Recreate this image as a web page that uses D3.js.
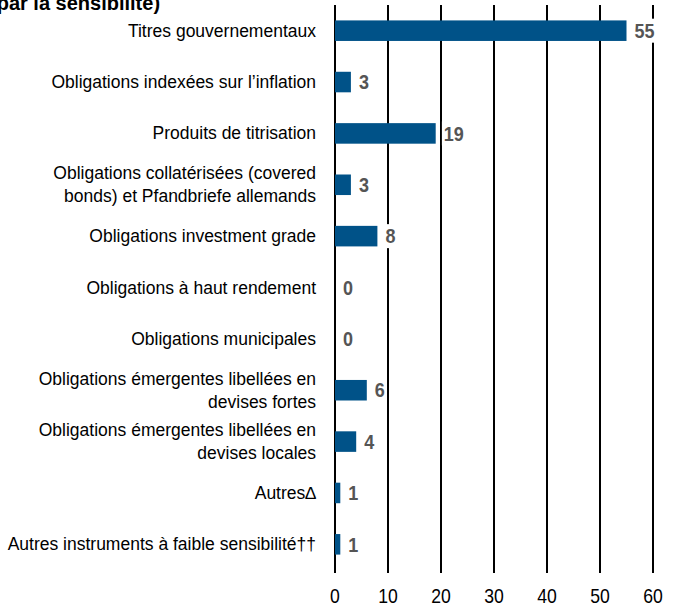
<!DOCTYPE html>
<html><head><meta charset="utf-8">
<script src="https://cdn.jsdelivr.net/npm/d3@7/dist/d3.min.js"></script>
<style>body{margin:0;background:#fff}svg{display:block}</style>
</head><body>
<script>
const categories = [
  ["Titres gouvernementaux"],
  ["Obligations indexées sur l’inflation"],
  ["Produits de titrisation"],
  ["Obligations collatérisées (covered", "bonds) et Pfandbriefe allemands"],
  ["Obligations investment grade"],
  ["Obligations à haut rendement"],
  ["Obligations municipales"],
  ["Obligations émergentes libellées en", "devises fortes"],
  ["Obligations émergentes libellées en", "devises locales"],
  ["Autres∆"],
  ["Autres instruments à faible sensibilité††"]
];
const values = [55, 3, 19, 3, 8, 0, 0, 6, 4, 1, 1];
const xTicks = [0, 10, 20, 30, 40, 50, 60];
const title = "(par la sensibilité)";

const FONT = "Liberation Sans, Arial, sans-serif";
const W = 679, H = 609;
const svg = d3.select("body").append("svg").attr("width", W).attr("height", H);
const x = d3.scaleLinear().domain([0, 60]).range([335, 653]);
const y = d3.scaleBand().domain(d3.range(categories.length)).range([5, 570]).paddingInner(0.6).paddingOuter(0.3);

// gridlines
svg.append("g").selectAll("line").data(xTicks).join("line")
  .attr("x1", d => x(d)).attr("x2", d => x(d))
  .attr("y1", 5).attr("y2", 573)
  .attr("stroke", "#000").attr("stroke-width", 2);

// bars
svg.append("g").selectAll("rect").data(values).join("rect")
  .attr("x", x(0)).attr("y", (d, i) => y(i))
  .attr("width", d => x(d) - x(0)).attr("height", y.bandwidth())
  .attr("fill", "#005288");

// value labels
const vl = svg.append("g").selectAll("g").data(values).join("g")
  .attr("transform", (d, i) => `translate(${x(d) + 8},${y(i) + y.bandwidth() / 2}) scale(0.9,1)`);
vl.append("rect").attr("x", -2).attr("y", -12).attr("width", d => String(d).length * 11 + 4).attr("height", 24).attr("fill", "#fff");
vl.append("text").text(d => d)
  .attr("dy", "0.36em")
  .attr("font-family", FONT)
  .attr("font-size", 20).attr("font-weight", "bold").attr("fill", "#555");

// category labels
const cl = svg.append("g").selectAll("text").data(categories).join("text")
  .attr("text-anchor", "end")
  .attr("font-family", FONT)
  .attr("font-size", 17.5).attr("fill", "#000")
  .attr("transform", (d, i) => `translate(316,${y(i) + y.bandwidth() / 2})`);
cl.each(function(d) {
  const t = d3.select(this);
  const n = d.length;
  d.forEach((line, k) => {
    t.append("tspan").attr("x", 0).attr("y", (k - (n - 1) / 2) * 23 + 6).text(line);
  });
});

// x axis tick labels
svg.append("g").selectAll("text").data(xTicks).join("text")
  .attr("transform", d => `translate(${x(d)},603) scale(0.88,1)`)
  .attr("text-anchor", "middle")
  .attr("font-family", FONT)
  .attr("font-size", 20).attr("fill", "#000")
  .text(d => d);

// title (cut at top)
svg.append("text").attr("x", -10).attr("y", 10)
  .attr("font-family", FONT)
  .attr("font-size", 20).attr("font-weight", "bold")
  .text(title);
</script>
</body></html>
